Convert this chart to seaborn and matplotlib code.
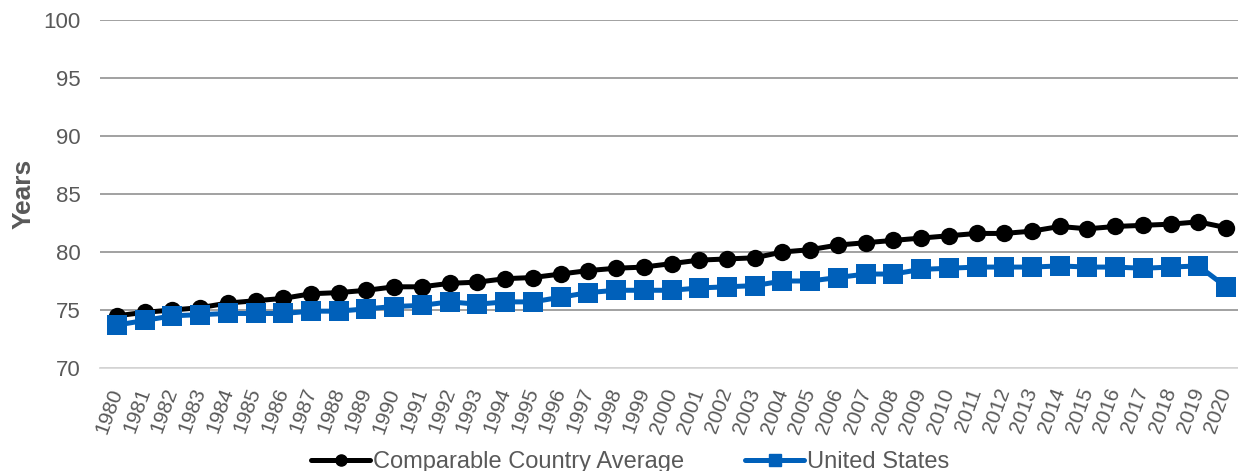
import numpy as np
import pandas as pd
import seaborn as sns
import matplotlib.pyplot as plt
from matplotlib.lines import Line2D

years = list(range(1980, 2021))

comparable = [74.5, 74.8, 75.0, 75.2, 75.6, 75.8, 76.0, 76.4, 76.5, 76.7,
              77.0, 77.0, 77.3, 77.4, 77.7, 77.8, 78.1, 78.4, 78.6, 78.7,
              79.0, 79.3, 79.4, 79.5, 80.0, 80.2, 80.6, 80.8, 81.0, 81.2,
              81.4, 81.6, 81.6, 81.8, 82.2, 82.0, 82.2, 82.3, 82.4, 82.6,
              82.1]

united_states = [73.7, 74.1, 74.5, 74.6, 74.7, 74.7, 74.7, 74.9, 74.9, 75.1,
                 75.3, 75.4, 75.7, 75.5, 75.7, 75.7, 76.1, 76.5, 76.7, 76.7,
                 76.7, 76.9, 77.0, 77.1, 77.5, 77.5, 77.8, 78.1, 78.1, 78.5,
                 78.6, 78.7, 78.7, 78.7, 78.8, 78.7, 78.7, 78.6, 78.7, 78.8,
                 77.0]

series_names = ['Comparable Country Average', 'United States']
colors = ['#000000', '#0060BA']

sns.set_style('white')
plt.rcParams['font.family'] = ['Liberation Sans', 'DejaVu Sans']
text_color = '#595959'

df = pd.DataFrame({
    'year': years * 2,
    'value': comparable + united_states,
    'series': [series_names[0]] * len(years) + [series_names[1]] * len(years),
})

fig = plt.figure(figsize=(12.38, 4.71), dpi=100)
ax = fig.add_axes([0.0808, 0.2187, 0.9192, 0.7388])

sns.lineplot(data=df, x='year', y='value', hue='series', style='series',
             palette=colors, markers=['o', 's'], dashes=False,
             linewidth=3.6, markersize=12.5, markeredgewidth=0,
             legend=False, ax=ax, zorder=3)
# squares look a bit bigger than the circles
ax.lines[1].set_markersize(14)

ax.set_xlim(1979.39, 2020.43)
ax.set_ylim(70, 100)
ax.set_yticks(range(70, 101, 5))
ax.set_xticks(years)
ax.set_xticklabels([str(y) for y in years], rotation=70, fontsize=15,
                   color=text_color, ha='right', va='center',
                   rotation_mode='anchor')
ax.tick_params(axis='y', labelsize=16, labelcolor=text_color, length=0, pad=14)
ax.tick_params(axis='x', length=0, pad=15)

ax.grid(axis='y', color='#9a9a9a', linewidth=1.3)
ax.grid(axis='x', visible=False)
for s in ['top', 'right', 'left']:
    ax.spines[s].set_visible(False)
ax.spines['bottom'].set_color('#d9d9d9')
ax.spines['bottom'].set_linewidth(1.3)

ax.set_xlabel('')
ax.set_ylabel('Years', fontsize=19, fontweight='bold', color=text_color)
ax.yaxis.set_label_coords(-0.057, 0.5)

handles = [
    Line2D([], [], color=colors[0], marker='o', linewidth=3.6, markersize=8),
    Line2D([], [], color=colors[1], marker='s', linewidth=3.6, markersize=8),
]
fig.legend(handles, series_names, loc='center', ncol=2, frameon=False,
           bbox_to_anchor=(630 / 1238, 9 / 471), fontsize=17,
           labelcolor=text_color, handlelength=2.5, handletextpad=0.1,
           columnspacing=2.6)

fig.savefig('out.png', dpi=100)
